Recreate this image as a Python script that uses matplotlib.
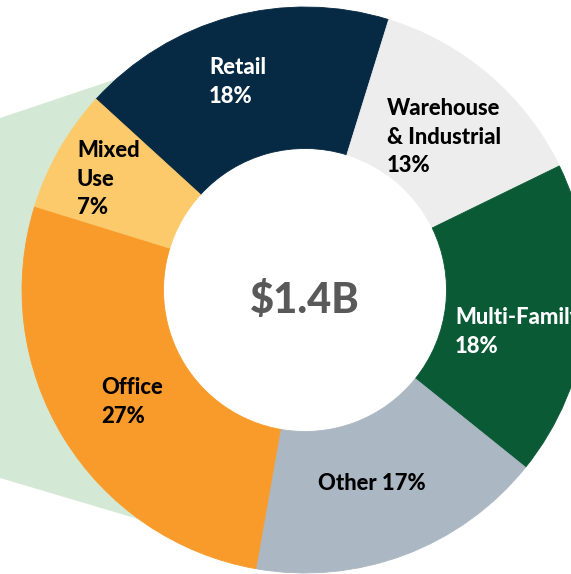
import matplotlib.pyplot as plt
from matplotlib.patches import Polygon

# donut data (share of $1.4B)
categories = ['Retail', 'Warehouse\n& Industrial', 'Multi-Family', 'Other', 'Office', 'Mixed\nUse']
shares = [18, 13, 18, 17, 27, 7]
colors = ['#062944', '#EDEDED', '#0A5A35', '#ABB7C3', '#F89B2A', '#FCCA6B']
text_colors = ['white', 'black', 'white', 'black', 'black', 'black']
total_label = '$1.4B'

plt.rcParams['font.family'] = ['Lato', 'DejaVu Sans']

fig = plt.figure(figsize=(5.71, 5.74), dpi=100)
ax = fig.add_axes([0, 0, 1, 1])

cx, cy, R = 305, 284, 283

# light green connector band behind the donut
band = Polygon([(0, 574 - 118), (155, 574 - 66), (155, 574 - 524), (0, 574 - 478)],
               closed=True, facecolor='#D4E9D5', edgecolor='none', zorder=0)
ax.add_patch(band)

wedges, _ = ax.pie(shares, colors=colors, startangle=137.6, counterclock=False,
                   radius=R, center=(cx, cy),
                   wedgeprops=dict(width=R * 0.5, linewidth=0))
for w in wedges:
    w.set_zorder(1)
    w.set_edgecolor(w.get_facecolor())
    w.set_linewidth(0.6)

# label placement (left edge, vertical centre) in pixel space
label_pos = [(209, 82), (387, 137), (455, 332), (318, 484), (101, 402), (77, 179)]
for name, pct, tc, (x, y) in zip(categories, shares, text_colors, label_pos):
    if name == 'Other':
        txt = f'{name} {pct}%'
    else:
        txt = f'{name}\n{pct}%'
    ax.text(x, 574 - y, txt, color=tc, fontsize=15.8, fontweight='black',
            ha='left', va='center', linespacing=1.45, zorder=3)

ax.text(cx, 574 - 313, total_label, color='#595959', fontsize=30, fontweight='black',
        ha='center', va='baseline', zorder=3)

ax.set_xlim(0, 571)
ax.set_ylim(0, 574)
ax.set_aspect('equal')
ax.axis('off')

fig.savefig('out.png', dpi=100)
